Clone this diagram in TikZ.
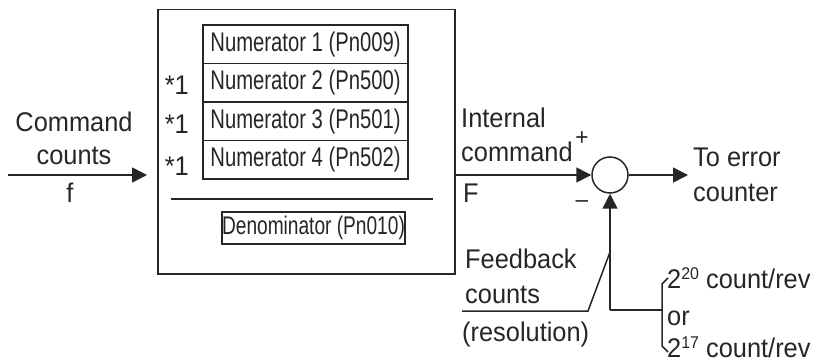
\documentclass[tikz,border=0pt]{standalone}
\usepackage{fontspec}
\setmainfont{Liberation Sans}[FakeStretch=0.94]
\newfontfamily\narrowfont{Liberation Sans}[FakeStretch=0.75]
\usetikzlibrary{arrows.meta}
\tikzset{
  line/.style={line width=1.5pt, draw=black!85},
  arr/.style={line, -{Triangle[length=15pt,width=15pt]}},
  lbl/.style={inner sep=0pt, font=\fontsize{27}{30}\selectfont, text=black!85},
  box/.style={line, inner sep=0pt, font=\narrowfont\fontsize{27}{30}\selectfont, text=black!85},
  sup/.style={inner sep=0pt, font=\fontsize{24}{24}\selectfont, text=black!85}
}
\newcommand{\pw}[1]{2\raisebox{9pt}{\fontsize{17}{17}\selectfont #1}}
\begin{document}
\begin{tikzpicture}[x=1pt,y=-1pt]
\useasboundingbox (0,0) rectangle (821,363);
% outer block
\node[line, draw, minimum width=297pt, minimum height=264pt, anchor=north west, inner sep=0pt] (outer) at (157,9) {};
% numerators
\node[box, draw, minimum width=205pt, minimum height=38.5pt] (n1) at (305.5,44.25) {Numerator 1 (Pn009)};
\node[box, draw, minimum width=205pt, minimum height=38.5pt] (n2) at (305.5,82.75) {Numerator 2 (Pn500)};
\node[box, draw, minimum width=205pt, minimum height=38.5pt] (n3) at (305.5,121.25) {Numerator 3 (Pn501)};
\node[box, draw, minimum width=205pt, minimum height=38.5pt] (n4) at (305.5,159.75) {Numerator 4 (Pn502)};
\node[lbl, anchor=base east] (s2) at (189,95) {*1};
\node[lbl, anchor=base east] (s3) at (189,134) {*1};
\node[lbl, anchor=base east] (s4) at (189,176) {*1};
% fraction bar
\draw[line] (171,199) -- (433,199);
% denominator
\node[box, draw, minimum width=171pt, minimum height=32pt, font=\narrowfont\fontsize{25.5}{30}\selectfont] (den) at (313.5,228) {Denominator (Pn010)};
% command input
\node[lbl, anchor=base] (tcmd) at (74,132) {Command};
\node[lbl, anchor=base] (tcnt) at (74,165) {counts};
\node[lbl, anchor=base] (tf) at (70,203) {f};
\coordinate (cin) at (8,175);
\draw[arr, shorten >=10pt] (cin) -- (outer.west |- cin);
% summing junction
\node[line, draw, circle, minimum size=36pt, inner sep=0pt] (sum) at (610,175) {};
\draw[arr] (outer.east |- sum) -- (sum.west);
\node[lbl, anchor=base west] (tint) at (461,128) {Internal};
\node[lbl, anchor=base west] (tcom) at (461,162) {command};
\node[sup] (plus) at (582,139) {+};
\node[sup] (minus) at (582,204) {–};
\node[lbl, anchor=base west] (tF) at (463,203) {F};
% output
\coordinate (outend) at (688,175);
\draw[arr] (sum.east) -- (outend);
\node[lbl, anchor=base west] (terr) at (693,167) {To error};
\node[lbl, anchor=base west] (tcntr) at (693,202) {counter};
% feedback
\coordinate (fbj) at (610,310);
\coordinate (br) at (662,310);
\coordinate (fbk) at (610,252);
\draw[arr] (fbj) -- (sum.south);
\draw[line] (fbj) -- (br);
\draw[line] (668,278) -- (662,284) -- (662,346) -- (668,352);
\draw[line] (462,311) -- (588,311) -- (fbk);
\node[lbl, anchor=base west] (tfb) at (465,268) {Feedback};
\node[lbl, anchor=base west] (tfc) at (465,303) {counts};
\node[lbl, anchor=base west] (tres) at (462,341) {(resolution)};
\node[lbl, anchor=base west] (t20) at (667,288) {\pw{20} count/rev};
\node[lbl, anchor=base west] (tor) at (667,325) {or};
\node[lbl, anchor=base west] (t17) at (667,357) {\pw{17} count/rev};
\end{tikzpicture}
\end{document}
